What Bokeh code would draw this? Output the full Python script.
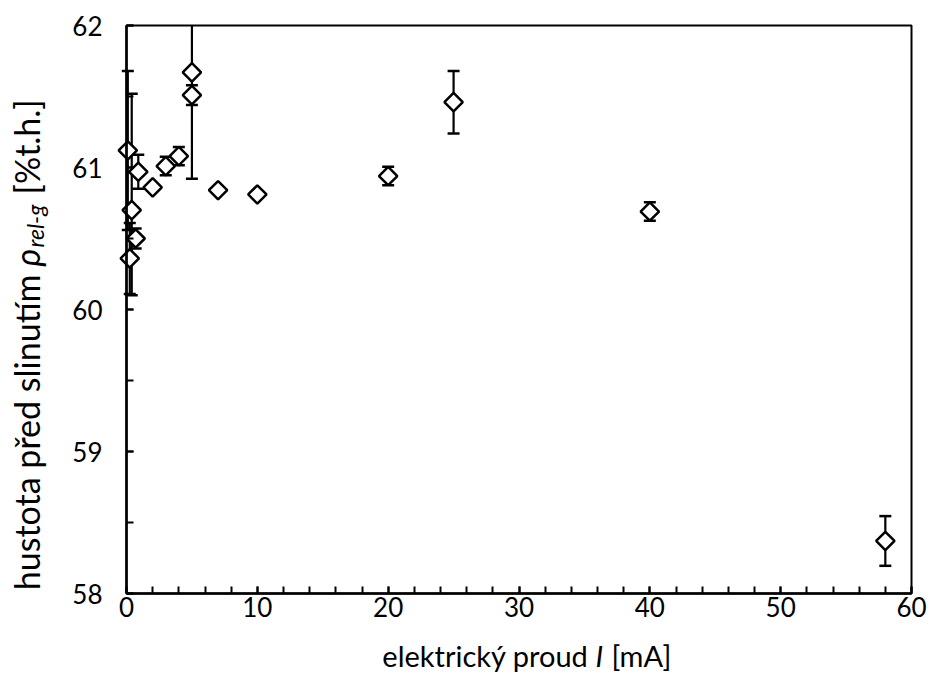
import numpy as np
from bokeh.plotting import figure
from bokeh.models import FixedTicker, Label, Range1d, BoxAnnotation
from bokeh.embed import file_html
from bokeh.resources import INLINE

# electric current I [mA]
current_mA = [0.1, 0.4, 0.25, 0.7, 0.9, 2.0, 3.0, 4.0, 5.0, 5.0, 7.0, 10.0, 20.0, 25.0, 40.0, 58.0]
# density before sintering rho_rel-g [%t.h.]
density = [61.12, 60.70, 60.36, 60.50, 60.97, 60.86, 61.01, 61.08, 61.67, 61.51, 60.84, 60.81, 60.94, 61.46, 60.69, 58.37]
# error bars (minus / plus)
err_minus = [0.56, 0.60, 0.25, 0.07, 0.12, 0.0, 0.065, 0.065, 0.75, 0.07, 0.0, 0.0, 0.065, 0.22, 0.065, 0.175]
err_plus = [0.56, 0.82, 0.25, 0.07, 0.12, 0.0, 0.065, 0.065, 0.75, 0.07, 0.0, 0.0, 0.065, 0.22, 0.065, 0.175]

x_ticks = [0, 10, 20, 30, 40, 50, 60]
x_minor = list(range(0, 61, 2))
y_ticks = [58, 59, 60, 61, 62]
y_minor = [58, 58.5, 59, 59.5, 60, 60.5, 61, 61.5, 62]

FONT = "Lato"
W, H = 938, 675
# pixel position of the plot box inside the canvas
BL, BR, BT, BB = 126, 27, 25, 82
X0, X1, Y0, Y1 = 0, 60, 58, 62
kx = (X1 - X0) / (W - BL - BR)
ky = (Y1 - Y0) / (H - BT - BB)

p = figure(width=W, height=H, output_backend="svg", toolbar_location=None,
           x_range=Range1d(X0 - BL * kx, X1 + BR * kx),
           y_range=Range1d(Y0 - BB * ky, Y1 + BT * ky),
           min_border=0, min_border_left=0, min_border_right=0, min_border_top=0, min_border_bottom=0,
           background_fill_color="white", border_fill_color="white")
p.grid.visible = False
p.outline_line_color = None

# plot box
p.add_layout(BoxAnnotation(left=X0, right=X1, bottom=Y0, top=Y1, fill_color=None, fill_alpha=0,
                           line_color="black", line_alpha=1.0, line_width=2))

p.xaxis.fixed_location = Y0
p.xaxis.bounds = (X0, X1)
p.yaxis.fixed_location = X0
p.yaxis.bounds = (Y0, Y1)
for ax, ticks, minor in ((p.xaxis, x_ticks, x_minor), (p.yaxis, y_ticks, y_minor)):
    ax.ticker = FixedTicker(ticks=ticks, minor_ticks=minor)
    ax.axis_line_color = "black"
    ax.axis_line_width = 2.5
    ax.major_tick_in = 7
    ax.major_tick_out = 0
    ax.minor_tick_in = 7
    ax.minor_tick_out = 0
    ax.major_tick_line_width = 2
    ax.minor_tick_line_width = 2
    ax.major_tick_line_color = "black"
    ax.minor_tick_line_color = "black"
    ax.major_label_text_font = FONT
    ax.major_label_text_font_size = "26px"
    ax.major_label_text_color = "black"
p.xaxis.major_label_standoff = 3
p.yaxis.major_label_standoff = 24

# error bars (drawn only inside the plot box)
sel = [i for i in range(len(density)) if err_minus[i] > 0 or err_plus[i] > 0]
xs = [current_mA[i] for i in sel]
lo = [density[i] - err_minus[i] for i in sel]
hi = [density[i] + err_plus[i] for i in sel]
hi_draw = [min(h, Y1) for h in hi]
p.segment(x0=xs, y0=lo, x1=xs, y1=hi_draw, line_color="black", line_width=2.2)
p.scatter(x=xs, y=lo, marker="dash", size=12, line_color="black", line_width=2.5)
cap_x = [x for x, h in zip(xs, hi) if h <= Y1]
cap_y = [h for h in hi if h <= Y1]
p.scatter(x=cap_x, y=cap_y, marker="dash", size=12, line_color="black", line_width=2.5)

# data points (open diamonds)
p.scatter(x=current_mA, y=density, marker="square", angle=np.pi / 4, size=13,
          fill_color="white", line_color="black", line_width=2.5)

# helpers: canvas pixel -> data coordinate (for placing the axis titles)
def dx(px):
    return X0 + (px - BL) * kx
def dy(py):
    return Y1 - (py - BT) * ky

def lab(x, y, text, size, italic=False, align="left", angle=0.0):
    p.add_layout(Label(x=x, y=y, text=text, angle=angle, text_align=align, text_baseline="middle",
                       text_font=FONT, text_font_style="italic" if italic else "normal",
                       text_font_size=size, text_color="black"))

# y axis title (rotated, built from pieces)
ycx = 26
lab(dx(ycx), dy(274), "hustota před slinutím", "34px", align="right", angle=np.pi / 2)
lab(dx(ycx), dy(266), "ρ", "34px", italic=True, angle=np.pi / 2)
lab(dx(ycx + 8), dy(247), "rel-g", "23px", italic=True, angle=np.pi / 2)
lab(dx(ycx), dy(194), "[%t.h.]", "34px", angle=np.pi / 2)

# x axis title
xcy = 655
lab(dx(588), dy(xcy), "elektrický proud", "29px", align="right")
lab(dx(595), dy(xcy), "I", "29px", italic=True)
lab(dx(611), dy(xcy), "[mA]", "29px")

open("out.html", "w").write(file_html(p, INLINE))
